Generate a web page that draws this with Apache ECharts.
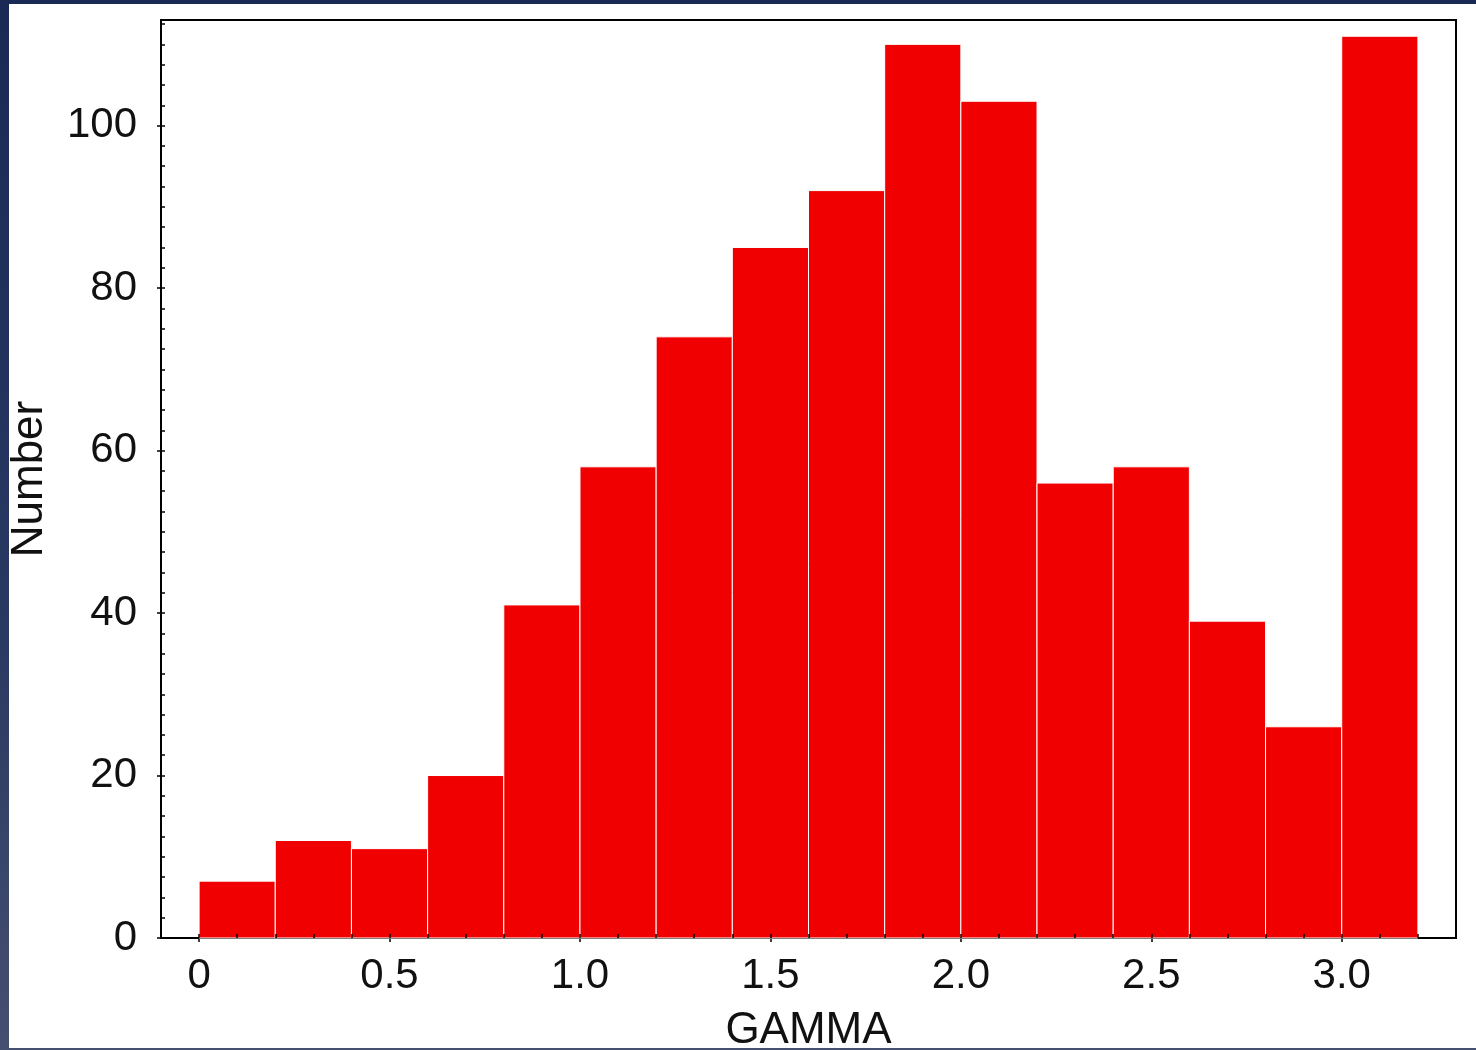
<!DOCTYPE html>
<html>
<head>
<meta charset="utf-8">
<script src="https://cdn.jsdelivr.net/npm/echarts@6/dist/echarts.min.js"></script>
<style>
  html, body { margin: 0; padding: 0; width: 1476px; height: 1050px; overflow: hidden;
    background: linear-gradient(180deg, #1a2a54 0%, #2a3962 60%, #454f70 100%); }
  #chart { position: absolute; left: 9px; top: 4px; width: 1467px; height: 1044px; background: #fff; }
</style>
</head>
<body>
<div id="chart"></div>
<script>
// histogram bins (left / right edges) and counts
const binStart = [0.0, 0.2, 0.4, 0.6, 0.8, 1.0, 1.2, 1.4, 1.6, 1.8, 2.0, 2.2, 2.4, 2.6, 2.8, 3.0]
const binEnd = [0.2, 0.4, 0.6, 0.8, 1.0, 1.2, 1.4, 1.6, 1.8, 2.0, 2.2, 2.4, 2.6, 2.8, 3.0, 3.2]
const counts = [7, 12, 11, 20, 41, 58, 74, 85, 92, 110, 103, 56, 58, 39, 26, 111]

const xTickValues = [0, 0.5, 1.0, 1.5, 2.0, 2.5, 3.0]
const xTickLabels = ['0', '0.5', '1.0', '1.5', '2.0', '2.5', '3.0']

const font = 'Liberation Sans'
const ink = '#111'

const myChart = echarts.init(document.getElementById('chart'))

myChart.setOption({
  animation: false,
  grid: {
    left: 152,
    top: 16,
    right: 20,
    bottom: 110,
    show: true,
    borderColor: '#000',
    borderWidth: 2,
    containLabel: false,
    outerBoundsMode: 'none',
  },
  xAxis: [
    {
      type: 'value',
      min: -0.1,
      max: 3.3,
      splitNumber: 7,
      splitLine: { show: false },
      axisLine: { show: true, onZero: false, lineStyle: { color: '#000', width: 2 } },
      axisTick: { show: true, inside: false, length: 4, lineStyle: { color: '#000', width: 1.5 } },
      axisLabel: {
        showMinLabel: false,
        showMaxLabel: false,
        margin: 17,
        fontSize: 42,
        fontFamily: font,
        color: ink,
        formatter(v) {
          const i = xTickValues.findIndex((t) => Math.abs(t - v) < 1e-6)
          return i >= 0 ? xTickLabels[i] : ''
        },
      },
      name: 'GAMMA',
      nameLocation: 'middle',
      nameGap: 71,
      nameTextStyle: { fontSize: 44, fontFamily: font, color: ink },
    },
    {
      // minor ticks every 0.1
      type: 'value',
      min: -0.1,
      max: 3.3,
      interval: 0.1,
      position: 'bottom',
      z: 10,
      splitLine: { show: false },
      axisLine: { show: false, onZero: false },
      axisTick: { show: true, inside: true, length: 4, lineStyle: { color: '#000', width: 1.5 } },
      axisLabel: { show: false },
    },
  ],
  yAxis: [
    {
      type: 'value',
      min: 0,
      max: 113,
      interval: 20,
      splitLine: { show: false },
      axisLine: { show: true, onZero: false, lineStyle: { color: '#000', width: 2 } },
      axisTick: { show: true, inside: false, length: 4, lineStyle: { color: '#000', width: 1.5 } },
      axisLabel: {
        showMaxLabel: false,
        margin: 24,
        fontSize: 42,
        fontFamily: font,
        color: ink,
      },
      name: 'Number',
      nameLocation: 'middle',
      nameGap: 109,
      nameTextStyle: { fontSize: 44, fontFamily: font, color: ink },
    },
    {
      // minor ticks every 2.5
      type: 'value',
      min: 0,
      max: 113,
      interval: 2.5,
      position: 'left',
      z: 10,
      splitLine: { show: false },
      axisLine: { show: false, onZero: false },
      axisTick: { show: true, inside: true, length: 4, lineStyle: { color: '#000', width: 1.5 } },
      axisLabel: { show: false },
    },
  ],
  series: [
    {
      type: 'custom',
      xAxisIndex: 0,
      yAxisIndex: 0,
      encode: { x: [0, 1], y: 2 },
      data: binStart.map((s, i) => [s, binEnd[i], counts[i]]),
      renderItem(params, api) {
        const p0 = api.coord([api.value(0), api.value(2)])
        const p1 = api.coord([api.value(1), 0])
        return {
          type: 'rect',
          shape: { x: p0[0], y: p0[1], width: p1[0] - p0[0], height: p1[1] - p0[1] },
          style: { fill: '#f00000', stroke: '#fff', lineWidth: 1 },
        }
      },
    },
  ],
})
</script>
</body>
</html>
